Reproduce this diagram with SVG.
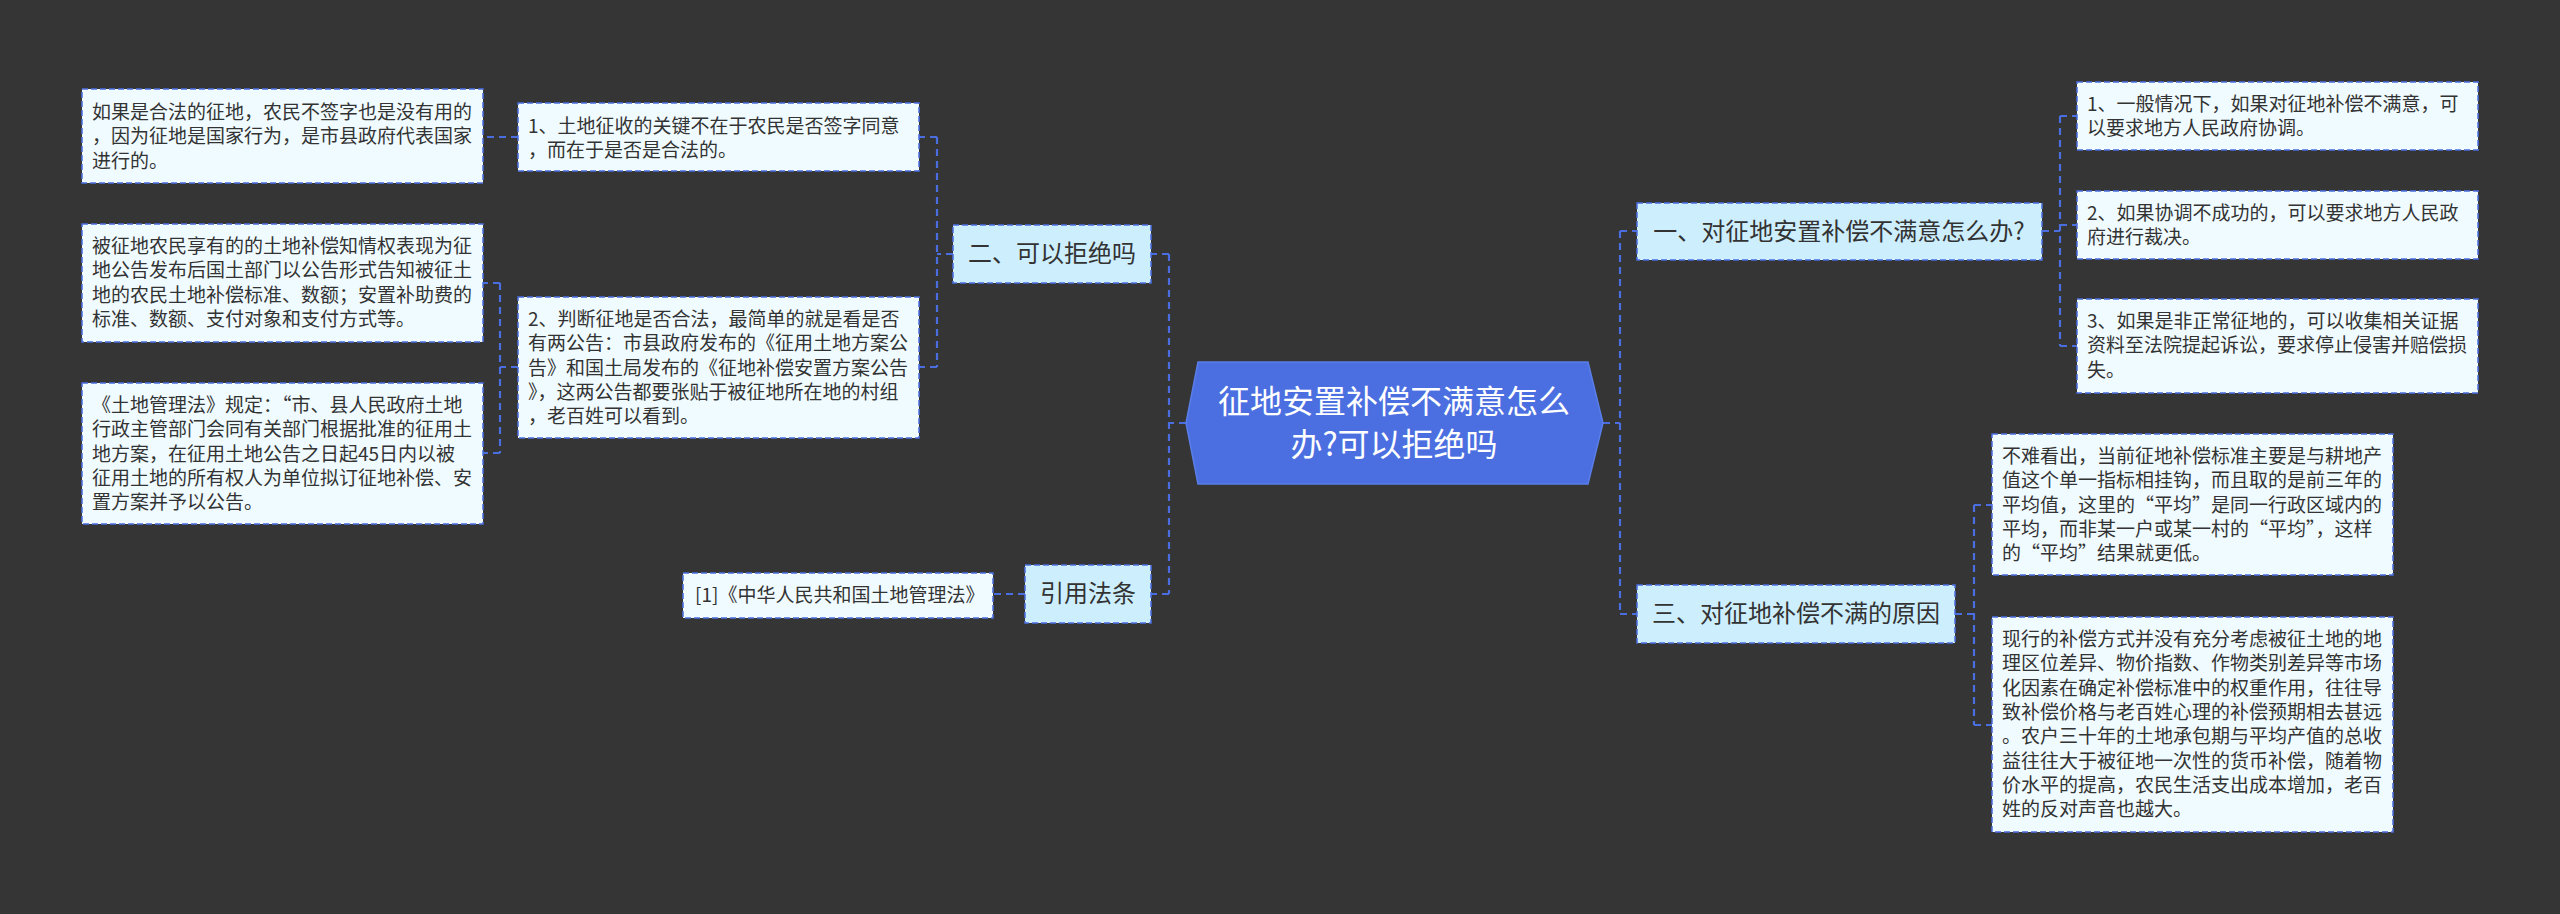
<svg xmlns="http://www.w3.org/2000/svg" width="2560" height="914" viewBox="0 0 2560 914">
<style>
.bg{fill:#353535}
.leaf{fill:#f0fbff;stroke:#4a6ee0;stroke-width:1.5;stroke-dasharray:6 3}
.br{fill:#cdeefd;stroke:#4a6ee0;stroke-width:1.5;stroke-dasharray:6 3}
.lt{font-family:"Noto Sans CJK SC","Noto Sans",sans-serif;font-size:19px;fill:#333333}
.bt{font-family:"Noto Sans CJK SC","Noto Sans",sans-serif;font-size:24px;fill:#333333;text-anchor:middle}
.ct{font-family:"Noto Sans CJK SC","Noto Sans",sans-serif;font-size:32px;fill:#ffffff;text-anchor:middle}
.cn{fill:none;stroke:#4a6ee0;stroke-width:2.2;stroke-dasharray:7 5}
.q{font-feature-settings:"fwid"}
</style>
<rect class="bg" x="0" y="0" width="2560" height="914"/>
<g id="connectors">
<path class="cn" d="M1186,423 H1169 M1169,254 V594 M1169,254 H1151 M1169,594 H1151"/>
<path class="cn" d="M953,254 H937 M937,137 V367 M937,137 H919 M937,367 H919"/>
<path class="cn" d="M518,137 H483"/>
<path class="cn" d="M518,367 H500 M500,283 V453 M500,283 H483 M500,453 H483"/>
<path class="cn" d="M1025,594 H993"/>
<path class="cn" d="M1603,423 H1620 M1620,231 V614 M1620,231 H1637 M1620,614 H1637"/>
<path class="cn" d="M2042,231 H2060 M2060,116 V346 M2060,116 H2077 M2060,225 H2077 M2060,346 H2077"/>
<path class="cn" d="M1955,614 H1974 M1974,505 V725 M1974,505 H1992 M1974,725 H1992"/>
</g>
<g id="center">
<polygon points="1198,362 1588,362 1603,423 1588,484 1198,484 1186,423" fill="#4b6fe0" stroke="#5a7ee8" stroke-width="1.5"/>
<text class="ct" x="1394" y="413">征地安置补偿不满意怎么</text>
<text class="ct" x="1394" y="456">办?可以拒绝吗</text>
</g>
<g id="b2">
<rect class="br" x="953" y="225" width="198" height="58"/>
<text class="bt" x="1052" y="262">二、可以拒绝吗</text>
</g>
<g id="bref">
<rect class="br" x="1025" y="565" width="126" height="58"/>
<text class="bt" x="1088" y="602">引用法条</text>
</g>
<g id="b1">
<rect class="br" x="1637" y="203" width="405" height="57"/>
<text class="bt" x="1839" y="240">一、对征地安置补偿不满意怎么办?</text>
</g>
<g id="b3">
<rect class="br" x="1637" y="585" width="318" height="58"/>
<text class="bt" x="1796" y="622">三、对征地补偿不满的原因</text>
</g>
<g id="ref1">
<rect class="leaf" x="683" y="573" width="310" height="45"/>
<text class="lt" x="695" y="602">[1]《中华人民共和国土地管理法》</text>
</g>
<g id="lb1">
<rect class="leaf" x="82" y="89" width="401" height="94"/>
<text class="lt"><tspan x="92" y="119">如果是合法的征地，农民不签字也是没有用的</tspan><tspan x="92" y="143.3">，因为征地是国家行为，是市县政府代表国家</tspan><tspan x="92" y="167.6">进行的。</tspan></text>
</g>
<g id="lb2">
<rect class="leaf" x="82" y="224" width="401" height="118"/>
<text class="lt"><tspan x="92" y="253">被征地农民享有的的土地补偿知情权表现为征</tspan><tspan x="92" y="277.3">地公告发布后国土部门以公告形式告知被征土</tspan><tspan x="92" y="301.6">地的农民土地补偿标准、数额；安置补助费的</tspan><tspan x="92" y="325.9">标准、数额、支付对象和支付方式等。</tspan></text>
</g>
<g id="lb3">
<rect class="leaf" x="82" y="383" width="401" height="141"/>
<text class="lt"><tspan x="92" y="412">《土地管理法》规定：<tspan class="q">“</tspan>市、县人民政府土地</tspan><tspan x="92" y="436.3">行政主管部门会同有关部门根据批准的征用土</tspan><tspan x="92" y="460.6">地方案，在征用土地公告之日起45日内以被</tspan><tspan x="92" y="484.9">征用土地的所有权人为单位拟订征地补偿、安</tspan><tspan x="92" y="509.2">置方案并予以公告。</tspan></text>
</g>
<g id="l1">
<rect class="leaf" x="518" y="103" width="401" height="68"/>
<text class="lt"><tspan x="528" y="133">1、土地征收的关键不在于农民是否签字同意</tspan><tspan x="528" y="157.3">，而在于是否是合法的。</tspan></text>
</g>
<g id="l2">
<rect class="leaf" x="518" y="297" width="401" height="141"/>
<text class="lt"><tspan x="528" y="326">2、判断征地是否合法，最简单的就是看是否</tspan><tspan x="528" y="350.3">有两公告：市县政府发布的《征用土地方案公</tspan><tspan x="528" y="374.6">告》和国土局发布的《征地补偿安置方案公告</tspan><tspan x="528" y="398.9">》，这两公告都要张贴于被征地所在地的村组</tspan><tspan x="528" y="423.2">，老百姓可以看到。</tspan></text>
</g>
<g id="r1">
<rect class="leaf" x="2077" y="82" width="401" height="68"/>
<text class="lt"><tspan x="2087" y="111">1、一般情况下，如果对征地补偿不满意，可</tspan><tspan x="2087" y="135.3">以要求地方人民政府协调。</tspan></text>
</g>
<g id="r2">
<rect class="leaf" x="2077" y="191" width="401" height="68"/>
<text class="lt"><tspan x="2087" y="220">2、如果协调不成功的，可以要求地方人民政</tspan><tspan x="2087" y="244.3">府进行裁决。</tspan></text>
</g>
<g id="r3">
<rect class="leaf" x="2077" y="299" width="401" height="94"/>
<text class="lt"><tspan x="2087" y="328">3、如果是非正常征地的，可以收集相关证据</tspan><tspan x="2087" y="352.3">资料至法院提起诉讼，要求停止侵害并赔偿损</tspan><tspan x="2087" y="376.6">失。</tspan></text>
</g>
<g id="r4">
<rect class="leaf" x="1992" y="434" width="401" height="141"/>
<text class="lt"><tspan x="2002" y="463">不难看出，当前征地补偿标准主要是与耕地产</tspan><tspan x="2002" y="487.3">值这个单一指标相挂钩，而且取的是前三年的</tspan><tspan x="2002" y="511.6">平均值，这里的<tspan class="q">“</tspan>平均<tspan class="q">”</tspan>是同一行政区域内的</tspan><tspan x="2002" y="535.9">平均，而非某一户或某一村的<tspan class="q">“</tspan>平均<tspan class="q">”</tspan>，这样</tspan><tspan x="2002" y="560.2">的<tspan class="q">“</tspan>平均<tspan class="q">”</tspan>结果就更低。</tspan></text>
</g>
<g id="r5">
<rect class="leaf" x="1992" y="617" width="401" height="215"/>
<text class="lt"><tspan x="2002" y="646">现行的补偿方式并没有充分考虑被征土地的地</tspan><tspan x="2002" y="670.3">理区位差异、物价指数、作物类别差异等市场</tspan><tspan x="2002" y="694.6">化因素在确定补偿标准中的权重作用，往往导</tspan><tspan x="2002" y="718.9">致补偿价格与老百姓心理的补偿预期相去甚远</tspan><tspan x="2002" y="743.2">。农户三十年的土地承包期与平均产值的总收</tspan><tspan x="2002" y="767.5">益往往大于被征地一次性的货币补偿，随着物</tspan><tspan x="2002" y="791.8">价水平的提高，农民生活支出成本增加，老百</tspan><tspan x="2002" y="816.1">姓的反对声音也越大。</tspan></text>
</g>
</svg>
